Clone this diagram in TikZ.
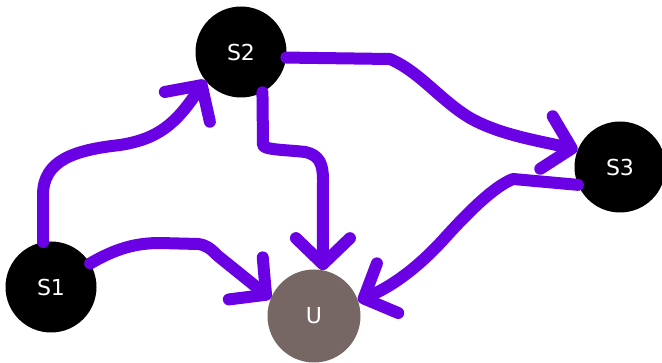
\documentclass[tikz,border=0pt]{standalone}
\usepackage{fontspec}
\setmainfont{DejaVu Sans}
\usetikzlibrary{arrows.meta}
\definecolor{edgepurple}{RGB}{106,0,228}
\definecolor{ufill}{RGB}{118,102,100}
\tikzset{
  state/.style={circle, fill=black, draw=none, inner sep=0pt, minimum size=91pt,
    text=white, font=\fontsize{22}{26}\selectfont},
  ustate/.style={state, fill=ufill, minimum size=93pt},
  link/.style={draw=edgepurple, line width=12pt, line cap=round, line join=round,
    -{Straight Barb[length=26pt, width=54pt, round]}},
}
\begin{document}
\begin{tikzpicture}[x=1pt, y=-1pt]
\useasboundingbox (0,0) rectangle (662,363);

\node[state]  (S1) at (51,287)  {S1};
\node[state]  (S2) at (241,52)  {S2};
\node[state]  (S3) at (620,167) {S3};
\node[ustate] (U)  at (314,316) {U};

% S1 -> S2
\draw[link] (S1.100) -- (43,195)
  .. controls (43,160) and (75,150) .. (120,145)
  .. controls (158,139) and (176,124) .. (S2.218);
% S1 -> U
\draw[link] (S1.31) .. controls (115,249) and (135,243) .. (160,243)
  -- (198,244) .. controls (206,245) and (210,248) .. (218,256) -- (U.158);
% S2 -> U
\draw[link] (S2.298) -- (263,145)
  .. controls (263,150) and (290,150) .. (305,152)
  .. controls (320,155) and (323,165) .. (323,180) -- (U.79);
% S2 -> S3
\draw[link] (S2.353) -- (390,59)
  .. controls (420,72) and (440,100) .. (470,118)
  .. controls (500,135) and (540,141) .. (S3.158);
% S3 -> U
\draw[link] (S3.203) -- (513,179)
  .. controls (495,186) and (470,210) .. (443,240)
  .. controls (420,265) and (395,285) .. (U.19);
\end{tikzpicture}
\end{document}
